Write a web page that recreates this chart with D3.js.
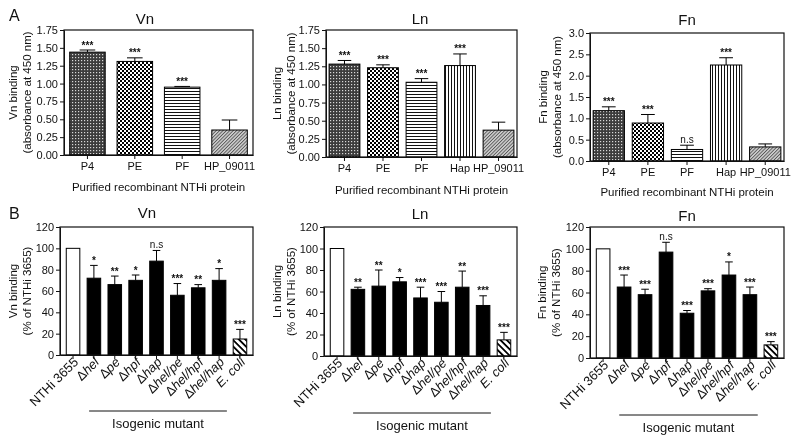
<!DOCTYPE html>
<html><head><meta charset="utf-8">
<script src="https://cdn.jsdelivr.net/npm/d3@7"></script>
<style>body{margin:0;background:#fff} svg{will-change:transform} svg text{font-family:"Liberation Sans",Arial,sans-serif;fill:#111}</style>
</head><body><svg id="c" width="800" height="440"></svg>
<script>
// ---------- data ----------
const absCategoriesVn = ["P4","PE","PF","HP_09011"];
const absCategories = ["P4","PE","PF","Hap","HP_09011"];
const vnAbsValues = [1.44,1.31,0.95,0.35];
const vnAbsErrors = [0.03,0.05,0.01,0.14];
const vnAbsSig = ["***","***","***",""];
const lnAbsValues = [1.28,1.23,1.03,1.26,0.37];
const lnAbsErrors = [0.05,0.04,0.05,0.16,0.11];
const lnAbsSig = ["***","***","***","***",""];
const fnAbsValues = [1.18,0.89,0.27,2.25,0.33];
const fnAbsErrors = [0.09,0.20,0.10,0.17,0.07];
const fnAbsSig = ["***","***","n.s","***",""];
const mutantCategories = ["NTHi 3655","Δhel","Δpe","Δhpf","Δhap","Δhel/pe","Δhel/hpf","Δhel/hap","E. coli"];
const vnPctValues = [100,72,66,70,88,56,63,70,15];
const vnPctErrors = [0,12,8,5,10,11,3,11,9];
const vnPctSig = ["","*","**","*","n.s","***","**","*","***"];
const lnPctValues = [100,62,65,69,54,50,64,47,15];
const lnPctErrors = [0,2,15,4,10,10,15,9,7];
const lnPctSig = ["","**","**","*","***","***","**","***","***"];
const fnPctValues = [100,65,58,97,41,61.5,76,58,12];
const fnPctErrors = [0,11,5,9,2.5,2,12,7,3];
const fnPctSig = ["","***","***","n.s","***","***","*","***","***"];
const absTicks = [0,0.25,0.5,0.75,1.0,1.25,1.5,1.75];
const fnAbsTicks = [0,0.5,1.0,1.5,2.0,2.5,3.0];
const pctTicks = [0,20,40,60,80,100,120];

// ---------- setup ----------
const svg = d3.select("#c");
svg.append("rect").attr("width",800).attr("height",440).attr("fill","#fff");
const defs = svg.append("defs");
function pat(id, w, h, build, transform){
  const p = defs.append("pattern").attr("id",id).attr("patternUnits","userSpaceOnUse")
    .attr("width",w).attr("height",h);
  if (transform) p.attr("patternTransform",transform);
  build(p);
}
pat("p4",3,3,p=>{p.append("rect").attr("width",3).attr("height",3).attr("fill","#3c3c3c");
  p.append("rect").attr("width",1.2).attr("height",1.2).attr("fill","#d8d8d8");});
pat("pe",4,4,p=>{p.append("rect").attr("width",4).attr("height",4).attr("fill","#fff");
  p.append("rect").attr("width",2).attr("height",2).attr("fill","#000");
  p.append("rect").attr("x",2).attr("y",2).attr("width",2).attr("height",2).attr("fill","#000");});
pat("pf",4,3,p=>{p.append("rect").attr("width",4).attr("height",3).attr("fill","#fff");
  p.append("rect").attr("y",1).attr("width",4).attr("height",1).attr("fill","#111");});
pat("hap",3,4,p=>{p.append("rect").attr("width",3).attr("height",4).attr("fill","#fff");
  p.append("rect").attr("x",1).attr("width",1).attr("height",4).attr("fill","#111");});
pat("hp",2.4,4,p=>{p.append("rect").attr("width",2.4).attr("height",4).attr("fill","#d0d0d0");
  p.append("rect").attr("width",0.9).attr("height",4).attr("fill","#555");},"rotate(45)");
pat("ecoli",4.5,4,p=>{p.append("rect").attr("width",4.5).attr("height",4).attr("fill","#fff");
  p.append("rect").attr("width",1.8).attr("height",4).attr("fill","#000");},"rotate(-45)");

function fillFor(c){
  if (c==="P4") return "url(#p4)";
  if (c==="PE") return "url(#pe)";
  if (c==="PF") return "url(#pf)";
  if (c==="Hap") return "url(#hap)";
  if (c==="HP_09011") return "url(#hp)";
  if (c==="NTHi 3655") return "#fff";
  if (c==="E. coli") return "url(#ecoli)";
  return "#000";
}

function panel(cfg){
  const g = svg.append("g");
  const x = d3.scaleBand().domain(cfg.cats).range([cfg.x0,cfg.x1]).paddingInner(cfg.pi).paddingOuter(cfg.po);
  const y = d3.scaleLinear().domain([0, cfg.ticks[cfg.ticks.length-1]]).range([cfg.y1,cfg.y0]);
  const bw = x.bandwidth();
  const data = cfg.cats.map((c,i)=>({c, v:cfg.vals[i], e:cfg.errs[i], s:cfg.sig[i]}));
  // error bars
  data.filter(d=>d.e>0).forEach(d=>{
    const cx = x(d.c)+bw/2;
    g.append("line").attr("x1",cx).attr("x2",cx).attr("y1",y(d.v)).attr("y2",y(d.v+d.e))
      .attr("stroke","#000").attr("stroke-width",1);
    g.append("line").attr("x1",cx-bw*cfg.cap).attr("x2",cx+bw*cfg.cap).attr("y1",y(d.v+d.e)).attr("y2",y(d.v+d.e))
      .attr("stroke","#000").attr("stroke-width",1);
  });
  // bars
  g.selectAll("rect.bar").data(data).join("rect").attr("class","bar")
    .attr("x",d=>x(d.c)).attr("y",d=>y(d.v)).attr("width",bw).attr("height",d=>y(0)-y(d.v))
    .attr("fill",d=>fillFor(d.c)).attr("stroke","#000").attr("stroke-width",1);
  // significance
  g.selectAll("text.sig").data(data.filter(d=>d.s)).join("text").attr("class","sig")
    .attr("x",d=>x(d.c)+bw/2).attr("y",d=>y(d.v+d.e)-(d.s==="n.s"?2.5:1.5))
    .attr("text-anchor","middle").attr("font-size",10).attr("font-weight",d=>d.s==="n.s"?"normal":"bold").text(d=>d.s);
  // frame
  g.append("rect").attr("x",cfg.x0).attr("y",cfg.y0).attr("width",cfg.x1-cfg.x0).attr("height",cfg.y1-cfg.y0)
    .attr("fill","none").attr("stroke","#111").attr("stroke-width",1.2);
  // y axis
  const ya = g.append("g").attr("transform",`translate(${cfg.x0},0)`)
    .call(d3.axisLeft(y).tickValues(cfg.ticks).tickFormat(d3.format(cfg.fmt)).tickSize(4).tickSizeOuter(0).tickPadding(2));
  ya.attr("font-family",null).attr("font-size",null);
  ya.selectAll("text").attr("font-size",11).attr("fill","#111");
  ya.selectAll("line,path").attr("stroke","#111");
  // x axis
  const xa = g.append("g").attr("transform",`translate(0,${cfg.y1})`)
    .call(d3.axisBottom(x).tickSize(4).tickSizeOuter(0).tickPadding(3));
  xa.attr("font-family",null).attr("font-size",null);
  xa.selectAll("line,path").attr("stroke","#111");
  if (cfg.rot){
    xa.selectAll("text").remove();
    cfg.cats.forEach(c=>{
      const t = g.append("text").attr("font-size",13).attr("text-anchor","end")
        .attr("transform",`translate(${x(c)+bw/2+6},${cfg.y1+8}) rotate(-45)`);
      if (c.startsWith("Δ")){
        t.append("tspan").text("Δ");
        t.append("tspan").attr("font-style","italic").text(c.slice(1));
      } else if (c==="E. coli"){
        t.attr("font-style","italic").text(c);
      } else t.text(c);
    });
    const lx0 = x(cfg.cats[1])+2, lx1 = x(cfg.cats[7])+bw+1;
    g.append("line").attr("x1",lx0).attr("x2",lx1).attr("y1",cfg.lineY).attr("y2",cfg.lineY)
      .attr("stroke","#111").attr("stroke-width",1);
    g.append("text").attr("x",(lx0+lx1)/2).attr("y",cfg.lineY+17).attr("text-anchor","middle")
      .attr("font-size",13).text("Isogenic mutant");
  } else {
    xa.selectAll("text").attr("font-size",11).attr("fill","#111");
    g.append("text").attr("x",(cfg.x0+cfg.x1)/2).attr("y",cfg.xlY).attr("text-anchor","middle")
      .attr("font-size",11.5).text("Purified recombinant NTHi protein");
  }
  // title
  g.append("text").attr("x",cfg.tx).attr("y",cfg.ty).attr("text-anchor","middle").attr("font-size",15).text(cfg.title);
  // y labels
  const yc = (cfg.y0+cfg.y1)/2;
  g.append("text").attr("transform",`translate(${cfg.ylx},${yc}) rotate(-90)`).attr("text-anchor","middle")
    .attr("dominant-baseline","central").attr("font-size",11.5).text(cfg.yl1);
  g.append("text").attr("transform",`translate(${cfg.ylx+13.5},${yc}) rotate(-90)`).attr("text-anchor","middle")
    .attr("dominant-baseline","central").attr("font-size",11.5).text(cfg.yl2);
}

const absLab = "(absorbance at 450 nm)", pctLab = "(% of NTHi 3655)";
panel({cats:absCategoriesVn, vals:vnAbsValues, errs:vnAbsErrors, sig:vnAbsSig, ticks:absTicks, fmt:".2f",
  x0:64,x1:253,y0:30,y1:155,pi:0.25,po:0.12,cap:0.22,title:"Vn",tx:145,ty:24,ylx:13,yl1:"Vn binding",yl2:absLab,xlY:191});
panel({cats:absCategories, vals:lnAbsValues, errs:lnAbsErrors, sig:lnAbsSig, ticks:absTicks, fmt:".2f",
  x0:326,x1:517,y0:30,y1:157,pi:0.2,po:0.08,cap:0.22,title:"Ln",tx:420,ty:24,ylx:277,yl1:"Ln binding",yl2:absLab,xlY:194});
panel({cats:absCategories, vals:fnAbsValues, errs:fnAbsErrors, sig:fnAbsSig, ticks:fnAbsTicks, fmt:".1f",
  x0:590,x1:784,y0:33,y1:161,pi:0.2,po:0.08,cap:0.22,title:"Fn",tx:687,ty:25,ylx:543,yl1:"Fn binding",yl2:absLab,xlY:196});
panel({cats:mutantCategories, vals:vnPctValues, errs:vnPctErrors, sig:vnPctSig, ticks:pctTicks, fmt:"d", rot:true,
  x0:60,x1:253,y0:227,y1:355,pi:0.35,po:0.3,cap:0.28,title:"Vn",tx:147,ty:218,ylx:13,yl1:"Vn binding",yl2:pctLab,lineY:411});
panel({cats:mutantCategories, vals:lnPctValues, errs:lnPctErrors, sig:lnPctSig, ticks:pctTicks, fmt:"d", rot:true,
  x0:324,x1:517,y0:227,y1:356,pi:0.35,po:0.3,cap:0.28,title:"Ln",tx:420,ty:219,ylx:277,yl1:"Ln binding",yl2:pctLab,lineY:413});
panel({cats:mutantCategories, vals:fnPctValues, errs:fnPctErrors, sig:fnPctSig, ticks:pctTicks, fmt:"d", rot:true,
  x0:590,x1:784,y0:227,y1:358,pi:0.35,po:0.3,cap:0.28,title:"Fn",tx:687,ty:221,ylx:542,yl1:"Fn binding",yl2:pctLab,lineY:415});

svg.append("text").attr("x",9).attr("y",21).attr("font-size",16).text("A");
svg.append("text").attr("x",9).attr("y",219).attr("font-size",16).text("B");
</script></body></html>
